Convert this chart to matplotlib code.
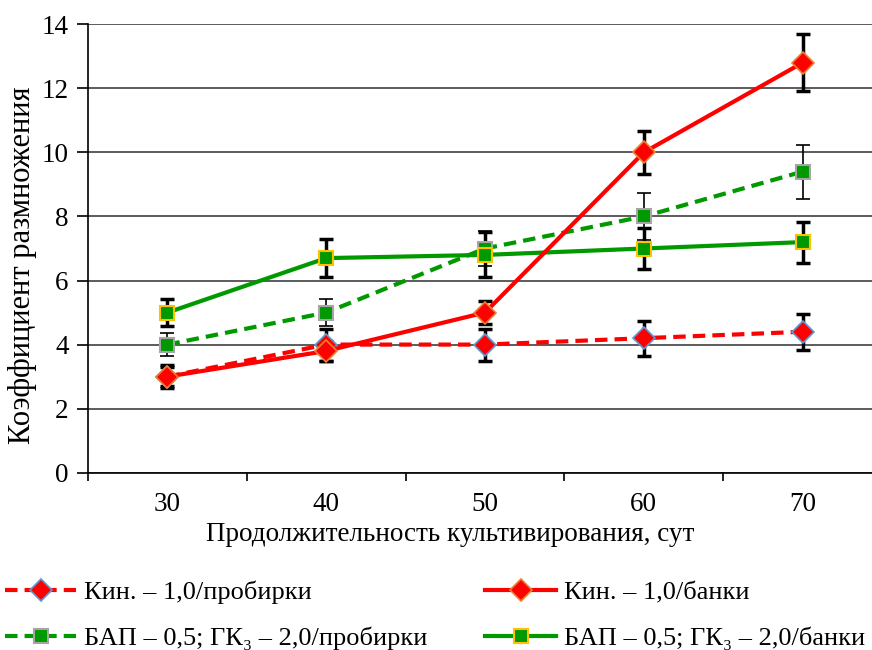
import numpy as np
import matplotlib
matplotlib.use("Agg")
import matplotlib.pyplot as plt

plt.rcParams["font.family"] = ["Liberation Serif", "DejaVu Serif"]

days = ["30", "40", "50", "60", "70"]

kin_tubes = [3.0, 4.0, 4.0, 4.2, 4.4]
kin_tubes_err = [0.35, 0.5, 0.5, 0.55, 0.56]
kin_jars = [3.0, 3.8, 5.0, 10.0, 12.8]
kin_jars_err = [0.3, 0.3, 0.36, 0.68, 0.89]
bap_tubes = [4.0, 5.0, 7.0, 8.0, 9.4]
bap_tubes_err = [0.35, 0.42, 0.55, 0.72, 0.84]
bap_jars = [5.0, 6.7, 6.8, 7.0, 7.2]
bap_jars_err = [0.42, 0.6, 0.7, 0.63, 0.64]

labels = ["Кин. – 1,0/пробирки", "Кин. – 1,0/банки",
          "БАП – 0,5; ГК₃ – 2,0/пробирки", "БАП – 0,5; ГК₃ – 2,0/банки"]

fig = plt.figure(figsize=(8.72, 6.5), dpi=100)
ax = fig.add_axes([88 / 872, 177.3 / 650, 794 / 872, 448.4 / 650])

x = np.arange(len(days))

# error bars first, lines on top
thick = dict(fmt="none", ecolor="black", elinewidth=2.5, capsize=4.7, capthick=2.5, zorder=2)
ax.errorbar(x, kin_tubes, yerr=kin_tubes_err, **thick)
ax.errorbar(x, kin_jars, yerr=kin_jars_err, **thick)
ax.errorbar(x, bap_tubes, yerr=bap_tubes_err, fmt="none", ecolor="black",
            elinewidth=1.2, capsize=4.7, capthick=1.2, zorder=2)
ax.errorbar(x, bap_jars, yerr=bap_jars_err, **thick)

l1, = ax.plot(x, kin_tubes, color="#ff0000", lw=3, ls=(0, (3, 1.7)),
              marker="D", ms=11, mfc="#ff0000", mec="#5b9bd5", mew=1.2, zorder=4)
l2, = ax.plot(x, kin_jars, color="#ff0000", lw=3, ls="-",
              marker="D", ms=11, mfc="#ff0000", mec="#ed7d31", mew=1.2, zorder=4)
l3, = ax.plot(x, bap_tubes, color="#009900", lw=3, ls=(0, (3, 1.7)),
              marker="s", ms=10.5, mfc="#009900", mec="#a5a5a5", mew=1.5, zorder=3)
l4, = ax.plot(x, bap_jars, color="#009900", lw=3, ls="-",
              marker="s", ms=10.5, mfc="#009900", mec="#ffc000", mew=1.5, zorder=3)

ax.set_ylim(0, 14)
ax.set_yticks(np.arange(0, 15, 2))
ax.set_xlim(-0.5, len(days) - 0.5)
ax.set_xticks(np.arange(-0.5, len(days), 1.0))
ax.set_xticklabels([])
ax.set_xticks(x, minor=True)
ax.set_xticklabels(days, minor=True)
ax.tick_params(axis="x", which="major", direction="out", length=6, width=1.2)
ax.tick_params(axis="x", which="minor", length=0, labelsize=19.5, pad=14)
ax.tick_params(axis="y", direction="out", length=8, width=1.2, labelsize=19.5, pad=6)

ax.yaxis.grid(True, color="#404040", lw=1.2)
ax.set_axisbelow(True)
for s in ["top", "right"]:
    ax.spines[s].set_visible(False)
for s in ["left", "bottom"]:
    ax.spines[s].set_linewidth(1.2)

ax.set_xlabel("Продолжительность культивирования, сут", fontsize=19.5)
ax.set_ylabel("Коэффициент размножения", fontsize=22)
ax.xaxis.set_label_coords((450 - 88) / 794, -49 / 448.4)
ax.yaxis.set_label_coords((37 - 88) / 794, (472.7 - 265) / 448.4)

# row-wise order for a 2-column legend
fig.legend([l1, l3, l2, l4], [labels[0], labels[2], labels[1], labels[3]],
           loc="lower left", bbox_to_anchor=(5 / 872, 0 / 650),
           ncol=2, frameon=False, fontsize=19, handlelength=2.7,
           columnspacing=2.2, labelspacing=0.85, handletextpad=0.28,
           borderpad=0, borderaxespad=0)

fig.savefig("out.png", dpi=100)
